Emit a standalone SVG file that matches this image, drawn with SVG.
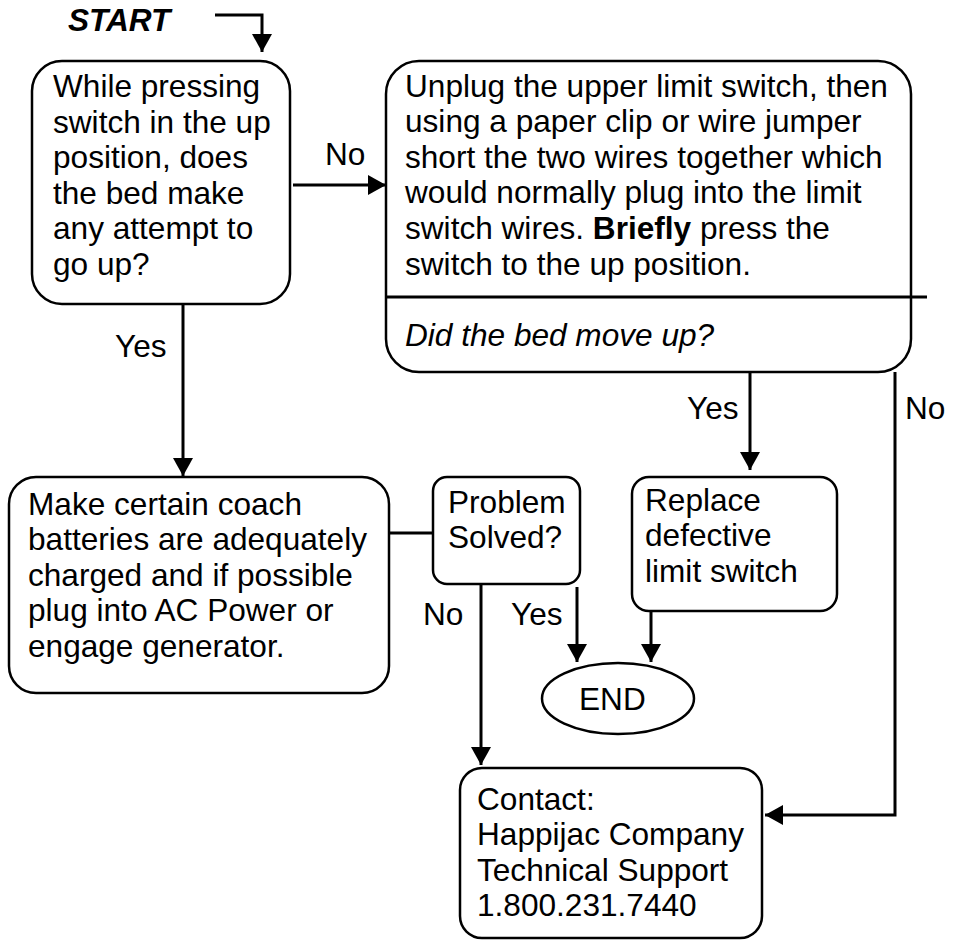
<svg xmlns="http://www.w3.org/2000/svg" width="957" height="941" viewBox="0 0 957 941">
<style>
  text { font-family: "Liberation Sans", Arial, sans-serif; font-size: 31.6px; fill: #000; }
  .box { fill: #fff; stroke: #000; stroke-width: 2.5; }
  .conn { fill: none; stroke: #000; stroke-width: 3; }
  .arr { marker-end: url(#ah); }
  .b { font-weight: bold; }
  .i { font-style: italic; }
</style>
<defs>
  <marker id="ah" markerUnits="userSpaceOnUse" markerWidth="18" markerHeight="20" viewBox="0 0 18 20" refX="18" refY="10" orient="auto">
    <path d="M0,0 L18,10 L0,20 z" fill="#000"/>
  </marker>
</defs>
<rect width="957" height="941" fill="#fff"/>

<g id="connectors">
  <polyline class="conn arr" points="215,15 262,15 262,52"/>
  <line class="conn arr" x1="293" y1="185" x2="386" y2="185"/>
  <line class="conn arr" x1="183" y1="304" x2="183" y2="476"/>
  <line class="conn" x1="389" y1="533" x2="433" y2="533"/>
  <line class="conn arr" x1="750" y1="372" x2="750" y2="470"/>
  <polyline class="conn arr" points="895,372 895,815 765,815"/>
  <line class="conn arr" x1="577" y1="587" x2="577" y2="662"/>
  <line class="conn arr" x1="481" y1="584" x2="481" y2="765"/>
  <line class="conn arr" x1="651" y1="611" x2="651" y2="662"/>
</g>

<g id="labels">
  <text x="325" y="165">No</text>
  <text x="115" y="357">Yes</text>
  <text x="687" y="419">Yes</text>
  <text x="905" y="419">No</text>
  <text x="423" y="625">No</text>
  <text x="511" y="625">Yes</text>
</g>

<g id="start">
  <text x="68" y="31" class="b i">START</text>
</g>

<g id="q1">
  <rect class="box" x="32" y="61" width="258" height="243" rx="30"/>
  <text x="53" y="97">While pressing</text>
  <text x="53" y="133">switch in the up</text>
  <text x="53" y="168">position, does</text>
  <text x="53" y="204">the bed make</text>
  <text x="53" y="239">any attempt to</text>
  <text x="53" y="275">go up?</text>
</g>

<g id="q2">
  <rect class="box" x="386" y="61" width="525" height="311" rx="33"/>
  <line x1="386" y1="297" x2="927" y2="297" stroke="#000" stroke-width="3"/>
  <text x="405" y="97">Unplug the upper limit switch, then</text>
  <text x="405" y="132">using a paper clip or wire jumper</text>
  <text x="405" y="168">short the two wires together which</text>
  <text x="405" y="203">would normally plug into the limit</text>
  <text x="405" y="239">switch wires. <tspan class="b">Briefly</tspan> press the</text>
  <text x="405" y="275">switch to the up position.</text>
  <text x="405" y="346" class="i">Did the bed move up?</text>
</g>

<g id="batteries">
  <rect class="box" x="9" y="477" width="380" height="216" rx="27"/>
  <text x="28" y="515">Make certain coach</text>
  <text x="28" y="550">batteries are adequately</text>
  <text x="28" y="586">charged and if possible</text>
  <text x="28" y="621">plug into AC Power or</text>
  <text x="28" y="657">engage generator.</text>
</g>

<g id="solved">
  <rect class="box" x="433" y="477" width="147" height="107" rx="14"/>
  <text x="448" y="513">Problem</text>
  <text x="448" y="548">Solved?</text>
</g>

<g id="replace">
  <rect class="box" x="632" y="477" width="205" height="134" rx="17"/>
  <text x="645" y="511">Replace</text>
  <text x="645" y="546">defective</text>
  <text x="645" y="582">limit switch</text>
</g>

<g id="end">
  <ellipse class="box" cx="618" cy="698.5" rx="76" ry="35.5"/>
  <text x="579" y="710">END</text>
</g>

<g id="contact">
  <rect class="box" x="460" y="768" width="302" height="170" rx="22"/>
  <text x="477" y="810">Contact:</text>
  <text x="477" y="845">Happijac Company</text>
  <text x="477" y="881">Technical Support</text>
  <text x="477" y="916">1.800.231.7440</text>
</g>
</svg>
